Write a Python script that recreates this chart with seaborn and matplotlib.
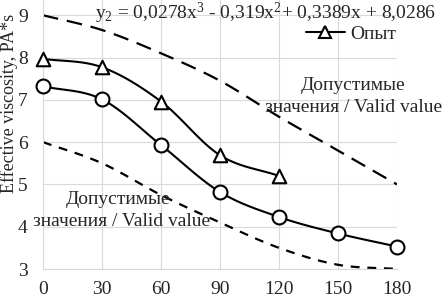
import matplotlib
matplotlib.use("Agg")
import matplotlib.pyplot as plt
import numpy as np
import pandas as pd
import seaborn as sns

# data
time_min = [0, 30, 60, 90, 120, 150, 180]
model = [7.32, 7.01, 5.93, 4.82, 4.23, 3.84, 3.53]
exp_time = [0, 30, 60, 90, 120]
experiment = [7.97, 7.77, 6.96, 5.69, 5.20]
upper_limit = [9.0, 8.65, 8.1, 7.45, 6.6, 5.8, 5.0]
lower_limit = [6.0, 5.5, 4.75, 4.1, 3.5, 3.1, 3.0]


def smooth(x, y, n=20):
    # Catmull-Rom style smoothing like Excel's "smoothed line"
    x = np.asarray(x, float)
    y = np.asarray(y, float)
    px = np.concatenate([[2 * x[0] - x[1]], x, [2 * x[-1] - x[-2]]])
    py = np.concatenate([[2 * y[0] - y[1]], y, [2 * y[-1] - y[-2]]])
    xs, ys = [], []
    for i in range(1, len(px) - 2):
        t = np.linspace(0, 1, n, endpoint=False)
        for arr, out in ((px, xs), (py, ys)):
            p0, p1, p2, p3 = arr[i - 1], arr[i], arr[i + 1], arr[i + 2]
            out.extend(0.5 * (2 * p1 + (-p0 + p2) * t
                              + (2 * p0 - 5 * p1 + 4 * p2 - p3) * t ** 2
                              + (-p0 + 3 * p1 - 3 * p2 + p3) * t ** 3))
    xs.append(x[-1])
    ys.append(y[-1])
    return pd.DataFrame({"x": xs, "y": ys})


sns.set_style("whitegrid", {"grid.color": "#d9d9d9", "axes.edgecolor": "#d9d9d9"})
plt.rcParams["font.family"] = ["Liberation Serif", "DejaVu Serif"]
plt.rcParams["mathtext.fontset"] = "custom"
plt.rcParams["mathtext.rm"] = "Liberation Serif"
plt.rcParams["mathtext.it"] = "Liberation Serif"

fig = plt.figure(figsize=(4.42, 2.99), dpi=100)
ax = fig.add_axes([43 / 442, 30 / 299, (397 - 43) / 442, 269 / 299])

sns.lineplot(data=smooth(time_min, upper_limit), x="x", y="y", ax=ax,
             color="black", lw=1.6, sort=False)
ax.lines[-1].set_dashes([7, 4])
sns.lineplot(data=smooth(time_min, lower_limit), x="x", y="y", ax=ax,
             color="black", lw=1.6, sort=False)
ax.lines[-1].set_dashes([4, 3.5])

sns.lineplot(data=smooth(time_min, model), x="x", y="y", ax=ax,
             color="black", lw=1.5, sort=False)
sns.scatterplot(x=time_min, y=model, ax=ax, marker="o", s=100,
                facecolor="white", edgecolor="black", linewidth=1.5, zorder=5,
                clip_on=False)

sns.lineplot(data=smooth(exp_time, experiment), x="x", y="y", ax=ax,
             color="black", lw=1.5, sort=False)
sns.scatterplot(x=exp_time, y=experiment, ax=ax, marker="^", s=95,
                facecolor="white", edgecolor="black", linewidth=1.5, zorder=5,
                clip_on=False)

ax.set_xlim(0, 180)
ax.set_ylim(3, 9.36)
ax.set_xticks(time_min)
ax.set_yticks(range(3, 10))
ax.tick_params(labelsize=14, length=0)
ax.tick_params(axis="y", pad=11)
ax.tick_params(axis="x", pad=9)
ax.set_xlabel("")
ax.set_ylabel("")
for s in ["top", "right"]:
    ax.spines[s].set_visible(False)
for s in ["left", "bottom"]:
    ax.spines[s].set_color("#d9d9d9")

fig.text(9 / 442, 1 - 193 / 299, "Effective viscosity, PA*s", rotation=90,
         ha="center", va="bottom", fontsize=13)

fig.text(95 / 442, 1 - 1 / 299,
         "y$_2$ = 0,0278x$^3$ - 0,319x$^2$+ 0,3389x + 8,0286",
         ha="left", va="top", fontsize=14)

fig.text(353 / 442, 1 - 86 / 299, "Допустимые", ha="center", va="center", fontsize=14)
fig.text(442 / 442, 1 - 108 / 299, "значения / Valid value", ha="right", va="center", fontsize=14)
fig.text(118 / 442, 1 - 200 / 299, "Допустимые", ha="center", va="center", fontsize=14)
fig.text(33 / 442, 1 - 221 / 299, "значения / Valid value", ha="left", va="center", fontsize=14)

# legend entry for experiment only
ax.plot([], [], color="black", lw=1.5, marker="^", ms=8.5, mfc="white",
        mec="black", mew=1.5, label="Опыт")
leg = ax.legend(handles=[ax.lines[-1]], loc="center left",
                bbox_to_anchor=(306 / 442, 1 - 34 / 299), bbox_transform=fig.transFigure,
                frameon=False, fontsize=14, handlelength=2.0, handletextpad=0.3,
                borderpad=0, borderaxespad=0)

fig.savefig("out.png", dpi=100)
